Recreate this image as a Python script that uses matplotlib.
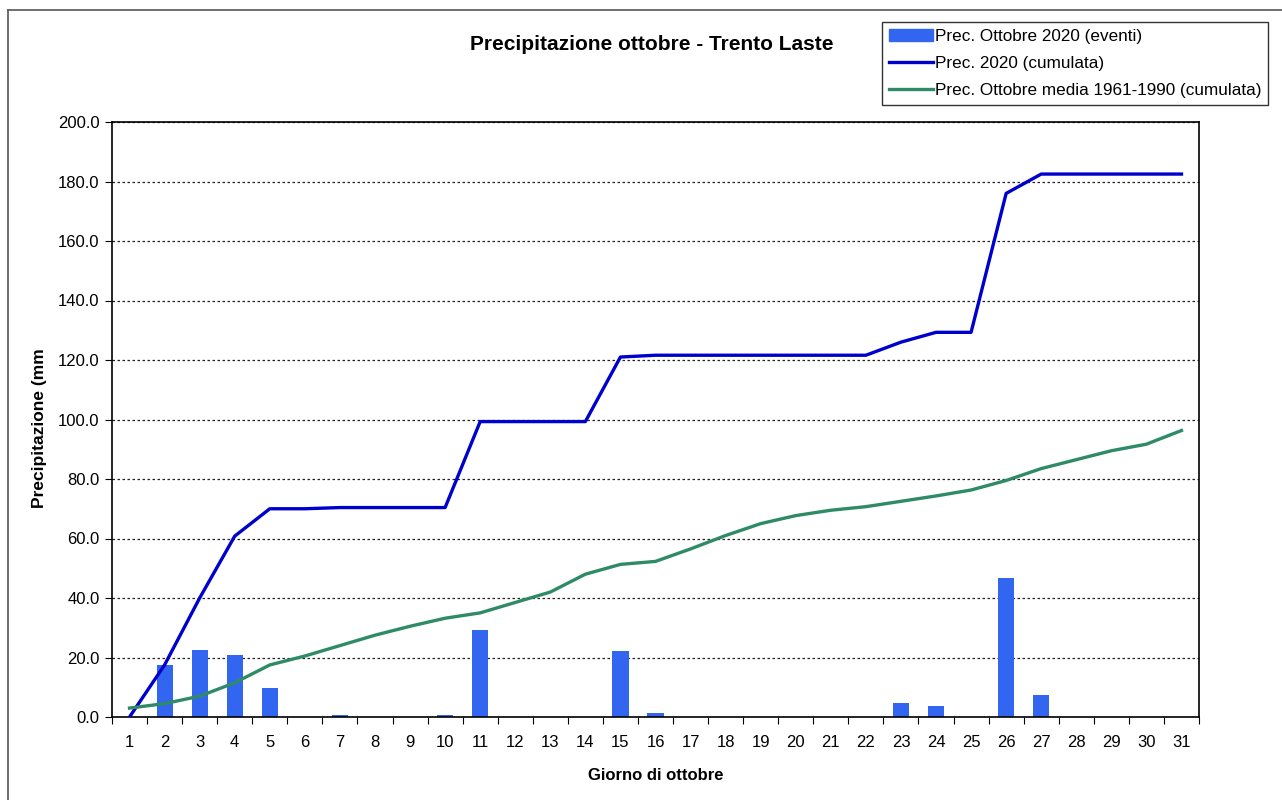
import matplotlib
matplotlib.use("Agg")
import matplotlib.pyplot as plt
from matplotlib.patches import Rectangle
from matplotlib.lines import Line2D
from matplotlib.ticker import FixedLocator

plt.rcParams['font.family'] = ['Liberation Sans', 'DejaVu Sans']

days = list(range(1, 32))
events = [0, 17.5, 22.5, 20.8, 9.7, 0, 0.8, 0, 0, 0.8, 29.2, 0, 0, 0, 22.2, 1.2,
          0, 0, 0, 0, 0, 0, 4.8, 3.8, 0, 46.7, 7.4, 0, 0, 0, 0]
cum_2020 = [0, 17.5, 40.0, 60.8, 70.0, 70.0, 70.4, 70.4, 70.4, 70.4, 99.3, 99.3, 99.3, 99.3,
            121.0, 121.6, 121.6, 121.6, 121.6, 121.6, 121.6, 121.6, 126.0, 129.3, 129.3,
            176.0, 182.5, 182.5, 182.5, 182.5, 182.5]
cum_mean = [3.0, 4.5, 7.0, 11.5, 17.5, 20.5, 24.0, 27.5, 30.5, 33.2, 35.0, 38.5, 42.0, 48.0,
            51.3, 52.3, 56.5, 61.0, 65.0, 67.7, 69.5, 70.7, 72.5, 74.3, 76.3, 79.5, 83.5,
            86.5, 89.5, 91.7, 96.3]
yticks = [0, 20, 40, 60, 80, 100, 120, 140, 160, 180, 200]

fig = plt.figure(figsize=(12.82, 8.0), dpi=100)
fig.add_artist(Line2D([8/1282, 8/1282], [0, 1-10/800], transform=fig.transFigure,
                      color='#555555', linewidth=1.2))
fig.add_artist(Line2D([8/1282, 1], [1-10/800, 1-10/800], transform=fig.transFigure,
                      color='#555555', linewidth=1.2))
ax = fig.add_axes([112/1282, 1-717/800, (1199-112)/1282, (717-122)/800])

ax.bar(days, events, width=0.46, color='#3366F0', zorder=2, label='Prec. Ottobre 2020 (eventi)')
ax.plot(days, cum_2020, color='#0000CC', linewidth=2.4, zorder=3, label='Prec. 2020 (cumulata)')
ax.plot(days, cum_mean, color='#2E8B65', linewidth=2.4, zorder=3,
        label='Prec. Ottobre media 1961-1990 (cumulata)')

ax.set_xlim(0.5, 31.5)
ax.set_ylim(0, 200)
ax.set_yticks(yticks)
ax.set_yticklabels([f"{v:.1f}" for v in yticks], fontsize=12)
ax.yaxis.grid(True, linestyle=(0, (2, 2)), color='#222222', linewidth=0.9)
ax.set_axisbelow(True)

ax.xaxis.set_major_locator(FixedLocator([d + 0.5 for d in [0] + days]))
ax.xaxis.set_minor_locator(FixedLocator(days))
ax.set_xticklabels([])
ax.set_xticklabels([str(d) for d in days], minor=True, fontsize=12)
ax.tick_params(axis='x', which='major', length=5, direction='out')
ax.tick_params(axis='x', which='minor', length=0, pad=13)
ax.tick_params(axis='y', length=5, direction='out', pad=4)

for s in ax.spines.values():
    s.set_linewidth(1.2)

ax.set_xlabel('Giorno di ottobre', fontsize=12, fontweight='bold', labelpad=13)
ax.set_ylabel('Precipitazione (mm', fontsize=12.5, fontweight='bold')
ax.yaxis.set_label_coords(-0.060, 0.485)

fig.text(652/1282, 1-44/800, 'Precipitazione ottobre - Trento Laste', ha='center', va='center',
         fontsize=15, fontweight='bold')

handles = [Rectangle((0, 0), 1, 1, color='#3366F0'),
           Line2D([], [], color='#0000CC', linewidth=2.4),
           Line2D([], [], color='#2E8B65', linewidth=2.4)]
labels = ['Prec. Ottobre 2020 (eventi)', 'Prec. 2020 (cumulata)',
          'Prec. Ottobre media 1961-1990 (cumulata)']
leg = fig.legend(handles, labels, loc='upper right', bbox_to_anchor=(1268/1282, 1-22/800),
                 fontsize=12.3, frameon=True, fancybox=False, edgecolor='black',
                 handlelength=2.6, handletextpad=0.1, borderpad=0.4, labelspacing=0.72,
                 borderaxespad=0)
leg.get_frame().set_linewidth(1.0)

fig.savefig('out.png', dpi=100)
